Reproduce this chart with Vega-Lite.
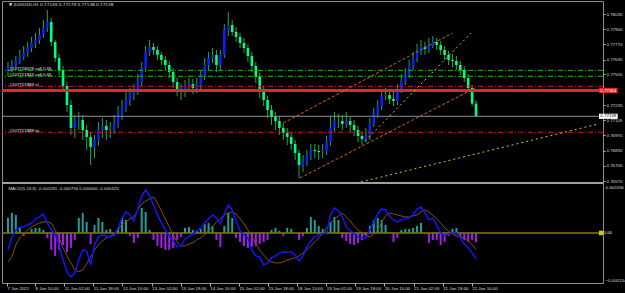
{
"$schema":"https://vega.github.io/schema/vega-lite/v6.json",
"width":601,"height":282,
"autosize":"none",
"padding":{"left":2,"top":1,"right":22,"bottom":10},
"background":"#000000",
"config":{"view":{"stroke":"#8c8c8c","strokeWidth":1},"axis":{"grid":false,"labelFont":"Liberation Sans","labelFontSize":4.4,"labelColor":"#dcdcdc","tickColor":"#b0b0b0","domain":false,"labelOverlap":false,"labelFlush":false,"labelBound":false}},
"datasets":{
"bars":[
{"i":0,"o":0.77527,"h":0.77614,"l":0.77491,"c":0.77562,"m":-0.000777,"s":-0.001325,"hs":0.000686},
{"i":1,"o":0.77562,"h":0.77632,"l":0.77527,"c":0.77588,"m":-0.000183,"s":-0.001097,"hs":0.000914},
{"i":2,"o":0.77588,"h":0.77667,"l":0.77562,"c":0.77623,"m":0.000137,"s":-0.000548,"hs":0.000823},
{"i":3,"o":0.77623,"h":0.7772,"l":0.77597,"c":0.77659,"m":0.000274,"s":-0.000229,"hs":0.000229},
{"i":4,"o":0.77659,"h":0.77754,"l":0.77632,"c":0.77693,"m":0.000274,"s":-0.000046,"hs":-0.000137},
{"i":5,"o":0.77693,"h":0.7779,"l":0.77659,"c":0.77737,"m":0.000366,"s":0.000137,"hs":0},
{"i":6,"o":0.77737,"h":0.77834,"l":0.77702,"c":0.77781,"m":0.000457,"s":0.000274,"hs":0.000183},
{"i":7,"o":0.77781,"h":0.77869,"l":0.77737,"c":0.77807,"m":0.00064,"s":0.000366,"hs":0.000229},
{"i":8,"o":0.77807,"h":0.77912,"l":0.77772,"c":0.77851,"m":0.000731,"s":0.000457,"hs":0.000229},
{"i":9,"o":0.77851,"h":0.77983,"l":0.77825,"c":0.77912,"m":0.000868,"s":0.000503,"hs":0.000137},
{"i":10,"o":0.77912,"h":0.7807,"l":0.77877,"c":0.77965,"m":0.000457,"s":0.000503,"hs":-0.000229},
{"i":11,"o":0.77965,"h":0.78,"l":0.77754,"c":0.7779,"m":0.000137,"s":0.000457,"hs":-0.000777},
{"i":12,"o":0.7779,"h":0.77807,"l":0.77614,"c":0.77649,"m":-0.000046,"s":0.000137,"hs":-0.001051},
{"i":13,"o":0.77649,"h":0.77684,"l":0.775,"c":0.77544,"m":-0.000548,"s":-0.000229,"hs":-0.000777},
{"i":14,"o":0.77544,"h":0.77579,"l":0.77351,"c":0.77404,"m":-0.001234,"s":-0.000686,"hs":-0.000548},
{"i":15,"o":0.77404,"h":0.77439,"l":0.77176,"c":0.77237,"m":-0.001782,"s":-0.001051,"hs":-0.000868},
{"i":16,"o":0.77237,"h":0.77281,"l":0.76974,"c":0.77036,"m":-0.002011,"s":-0.001371,"hs":-0.000686},
{"i":17,"o":0.77036,"h":0.77149,"l":0.76948,"c":0.77097,"m":-0.001828,"s":-0.001691,"hs":-0.00032},
{"i":18,"o":0.77097,"h":0.77176,"l":0.77018,"c":0.77106,"m":-0.001234,"s":-0.001782,"hs":0.000686},
{"i":19,"o":0.77106,"h":0.77149,"l":0.7693,"c":0.77018,"m":-0.000777,"s":-0.001691,"hs":0.000914},
{"i":20,"o":0.77018,"h":0.77062,"l":0.76843,"c":0.76957,"m":-0.000823,"s":-0.001417,"hs":0.000503},
{"i":21,"o":0.76957,"h":0.77001,"l":0.76711,"c":0.76869,"m":-0.001462,"s":-0.001097,"hs":-0.000503},
{"i":22,"o":0.76869,"h":0.76974,"l":0.76772,"c":0.7693,"m":-0.000548,"s":-0.000777,"hs":0.000366},
{"i":23,"o":0.7693,"h":0.77088,"l":0.76878,"c":0.77018,"m":-0.000183,"s":-0.000548,"hs":0.000686},
{"i":24,"o":0.77018,"h":0.77123,"l":0.76948,"c":0.77053,"m":-0.000091,"s":-0.000366,"hs":0.000503},
{"i":25,"o":0.77053,"h":0.77106,"l":0.7693,"c":0.77018,"m":-0.000137,"s":-0.000229,"hs":0.000137},
{"i":26,"o":0.77018,"h":0.77088,"l":0.76948,"c":0.77027,"m":-0.000183,"s":-0.000137,"hs":0.000183},
{"i":27,"o":0.77027,"h":0.77149,"l":0.76983,"c":0.77079,"m":-0.000091,"s":-0.000046,"hs":-0.000137},
{"i":28,"o":0.77079,"h":0.77228,"l":0.77036,"c":0.77158,"m":0.000229,"s":0.000137,"hs":0.000229},
{"i":29,"o":0.77158,"h":0.77281,"l":0.77106,"c":0.7722,"m":0.000686,"s":0.000411,"hs":0.000686},
{"i":30,"o":0.7722,"h":0.77351,"l":0.77176,"c":0.77281,"m":0.00096,"s":0.000503,"hs":0.000594},
{"i":31,"o":0.77281,"h":0.77386,"l":0.77228,"c":0.77342,"m":0.000823,"s":0.00064,"hs":-0.000137},
{"i":32,"o":0.77342,"h":0.77421,"l":0.77281,"c":0.77378,"m":0.000548,"s":0.000731,"hs":-0.000457},
{"i":33,"o":0.77378,"h":0.77509,"l":0.77325,"c":0.77439,"m":0.001097,"s":0.001051,"hs":-0.000229},
{"i":34,"o":0.77439,"h":0.77614,"l":0.77404,"c":0.77562,"m":0.001691,"s":0.001325,"hs":0.001143},
{"i":35,"o":0.77562,"h":0.77754,"l":0.77527,"c":0.77702,"m":0.001965,"s":0.001462,"hs":0.00096},
{"i":36,"o":0.77702,"h":0.77807,"l":0.77667,"c":0.77746,"m":0.001691,"s":0.001554,"hs":0.000137},
{"i":37,"o":0.77746,"h":0.77781,"l":0.77676,"c":0.7772,"m":0.00128,"s":0.001645,"hs":-0.00032},
{"i":38,"o":0.7772,"h":0.77754,"l":0.77632,"c":0.77676,"m":0.000823,"s":0.001371,"hs":-0.000594},
{"i":39,"o":0.77676,"h":0.77702,"l":0.77588,"c":0.77632,"m":0.000457,"s":0.001005,"hs":-0.000686},
{"i":40,"o":0.77632,"h":0.77667,"l":0.77544,"c":0.77588,"m":0.000137,"s":0.00064,"hs":-0.000777},
{"i":41,"o":0.77588,"h":0.77623,"l":0.77474,"c":0.77527,"m":-0.000137,"s":0.000274,"hs":-0.000777},
{"i":42,"o":0.77527,"h":0.77562,"l":0.77386,"c":0.77439,"m":-0.000366,"s":-0.000137,"hs":-0.000686},
{"i":43,"o":0.77439,"h":0.77474,"l":0.77316,"c":0.77369,"m":-0.00064,"s":-0.000411,"hs":-0.00032},
{"i":44,"o":0.77369,"h":0.77421,"l":0.77281,"c":0.77351,"m":-0.000594,"s":-0.000594,"hs":-0.000183},
{"i":45,"o":0.77351,"h":0.77456,"l":0.77307,"c":0.77404,"m":-0.000274,"s":-0.000594,"hs":0.000229},
{"i":46,"o":0.77404,"h":0.77474,"l":0.77351,"c":0.77421,"m":-0.000183,"s":-0.000503,"hs":0.000274},
{"i":47,"o":0.77421,"h":0.77465,"l":0.77334,"c":0.77386,"m":-0.000046,"s":-0.000457,"hs":0.000137},
{"i":48,"o":0.77386,"h":0.77474,"l":0.77342,"c":0.77413,"m":0.000091,"s":-0.00032,"hs":0.000091},
{"i":49,"o":0.77413,"h":0.77544,"l":0.77369,"c":0.775,"m":0.000229,"s":-0.000229,"hs":0.000183},
{"i":50,"o":0.775,"h":0.77649,"l":0.77456,"c":0.77588,"m":0.000457,"s":-0.000091,"hs":0.000411},
{"i":51,"o":0.77588,"h":0.77702,"l":0.77544,"c":0.77649,"m":0.00064,"s":0.000137,"hs":0.000457},
{"i":52,"o":0.77649,"h":0.77737,"l":0.77605,"c":0.77676,"m":0.000823,"s":0.000274,"hs":0.00032},
{"i":53,"o":0.77676,"h":0.7772,"l":0.77527,"c":0.77588,"m":0.000686,"s":0.000503,"hs":-0.00032},
{"i":54,"o":0.77588,"h":0.7772,"l":0.77544,"c":0.77676,"m":0.000411,"s":0.00064,"hs":-0.00064},
{"i":55,"o":0.77676,"h":0.77947,"l":0.77649,"c":0.77895,"m":0.000868,"s":0.000823,"hs":0.00032},
{"i":56,"o":0.77895,"h":0.78053,"l":0.77842,"c":0.77939,"m":0.00128,"s":0.000914,"hs":0.000914},
{"i":57,"o":0.77939,"h":0.77983,"l":0.77842,"c":0.77877,"m":0.001051,"s":0.00096,"hs":0.000686},
{"i":58,"o":0.77877,"h":0.77921,"l":0.7779,"c":0.77834,"m":0.000548,"s":0.000868,"hs":-0.000229},
{"i":59,"o":0.77834,"h":0.77869,"l":0.77737,"c":0.77781,"m":0.000091,"s":0.00064,"hs":-0.000411},
{"i":60,"o":0.77781,"h":0.77825,"l":0.77693,"c":0.77737,"m":-0.000091,"s":0.000411,"hs":-0.000594},
{"i":61,"o":0.77737,"h":0.77772,"l":0.77614,"c":0.77667,"m":-0.000229,"s":0.000137,"hs":-0.000686},
{"i":62,"o":0.77667,"h":0.77702,"l":0.77527,"c":0.77579,"m":-0.000777,"s":-0.000183,"hs":-0.00064},
{"i":63,"o":0.77579,"h":0.77614,"l":0.7743,"c":0.77483,"m":-0.001051,"s":-0.000503,"hs":-0.000594},
{"i":64,"o":0.77483,"h":0.77518,"l":0.77299,"c":0.77378,"m":-0.001097,"s":-0.000777,"hs":-0.000503},
{"i":65,"o":0.77378,"h":0.77404,"l":0.77228,"c":0.77281,"m":-0.001462,"s":-0.001005,"hs":-0.000411},
{"i":66,"o":0.77281,"h":0.77316,"l":0.77123,"c":0.77193,"m":-0.001371,"s":-0.001234,"hs":-0.00032},
{"i":67,"o":0.77193,"h":0.77237,"l":0.77062,"c":0.77132,"m":-0.001143,"s":-0.001325,"hs":0.000137},
{"i":68,"o":0.77132,"h":0.77176,"l":0.77018,"c":0.77097,"m":-0.001051,"s":-0.001371,"hs":0.000229},
{"i":69,"o":0.77097,"h":0.77141,"l":0.76974,"c":0.77036,"m":-0.000914,"s":-0.001371,"hs":0.000091},
{"i":70,"o":0.77036,"h":0.77079,"l":0.7693,"c":0.76992,"m":-0.000868,"s":-0.001325,"hs":-0.000137},
{"i":71,"o":0.76992,"h":0.77036,"l":0.76886,"c":0.76957,"m":-0.000868,"s":-0.001234,"hs":0.000229},
{"i":72,"o":0.76957,"h":0.77001,"l":0.76843,"c":0.76895,"m":-0.000868,"s":-0.001188,"hs":0.000183},
{"i":73,"o":0.76895,"h":0.7693,"l":0.76755,"c":0.76816,"m":-0.001005,"s":-0.001143,"hs":0},
{"i":74,"o":0.76816,"h":0.76843,"l":0.76597,"c":0.76711,"m":-0.00128,"s":-0.001051,"hs":-0.00032},
{"i":75,"o":0.76711,"h":0.76799,"l":0.7665,"c":0.76737,"m":-0.001051,"s":-0.000914,"hs":-0.000137},
{"i":76,"o":0.76737,"h":0.76843,"l":0.76702,"c":0.7679,"m":-0.00064,"s":-0.000777,"hs":0.000229},
{"i":77,"o":0.7679,"h":0.76895,"l":0.76755,"c":0.76843,"m":-0.000366,"s":-0.000594,"hs":0.000731},
{"i":78,"o":0.76843,"h":0.76895,"l":0.76772,"c":0.76834,"m":-0.000183,"s":-0.000411,"hs":0.000594},
{"i":79,"o":0.76834,"h":0.76886,"l":0.76755,"c":0.76825,"m":-0.000091,"s":-0.000229,"hs":0.00032},
{"i":80,"o":0.76825,"h":0.76895,"l":0.76772,"c":0.76834,"m":-0.000046,"s":0,"hs":0.000183},
{"i":81,"o":0.76834,"h":0.76965,"l":0.76799,"c":0.76913,"m":0,"s":0.000229,"hs":0.000091},
{"i":82,"o":0.76913,"h":0.77141,"l":0.76878,"c":0.77036,"m":0.000823,"s":0.000457,"hs":0.000503},
{"i":83,"o":0.77036,"h":0.77176,"l":0.77001,"c":0.77097,"m":0.001143,"s":0.00064,"hs":0.000731},
{"i":84,"o":0.77097,"h":0.77158,"l":0.77036,"c":0.77097,"m":0.001005,"s":0.000777,"hs":0.000594},
{"i":85,"o":0.77097,"h":0.77149,"l":0.77018,"c":0.77071,"m":0.000731,"s":0.000914,"hs":-0.000229},
{"i":86,"o":0.77071,"h":0.77176,"l":0.77036,"c":0.77097,"m":0.000274,"s":0.000731,"hs":-0.000366},
{"i":87,"o":0.77097,"h":0.77141,"l":0.77001,"c":0.77062,"m":0.000091,"s":0.000548,"hs":-0.000503},
{"i":88,"o":0.77062,"h":0.77106,"l":0.76965,"c":0.77018,"m":-0.000046,"s":0.00032,"hs":-0.000548},
{"i":89,"o":0.77018,"h":0.77053,"l":0.76913,"c":0.76965,"m":-0.000183,"s":0.000137,"hs":-0.000457},
{"i":90,"o":0.76965,"h":0.77001,"l":0.76886,"c":0.76939,"m":-0.000229,"s":0,"hs":-0.00032},
{"i":91,"o":0.76939,"h":0.77036,"l":0.76904,"c":0.76965,"m":-0.000229,"s":-0.000137,"hs":-0.000137},
{"i":92,"o":0.76965,"h":0.77123,"l":0.7693,"c":0.77079,"m":0.000137,"s":-0.000183,"hs":0.00032},
{"i":93,"o":0.77079,"h":0.77211,"l":0.77044,"c":0.77158,"m":0.000503,"s":-0.000046,"hs":0.000594},
{"i":94,"o":0.77158,"h":0.77281,"l":0.77123,"c":0.77228,"m":0.000868,"s":0.000091,"hs":0.000686},
{"i":95,"o":0.77228,"h":0.77369,"l":0.77193,"c":0.77316,"m":0.001097,"s":0.000503,"hs":0.000594},
{"i":96,"o":0.77316,"h":0.77386,"l":0.77281,"c":0.77325,"m":0.001051,"s":0.000777,"hs":0.000366},
{"i":97,"o":0.77325,"h":0.77369,"l":0.77246,"c":0.7729,"m":0.000777,"s":0.000914,"hs":0.000046},
{"i":98,"o":0.7729,"h":0.77351,"l":0.77228,"c":0.77272,"m":0.000594,"s":0.000868,"hs":-0.000411},
{"i":99,"o":0.77272,"h":0.77421,"l":0.77237,"c":0.77378,"m":0.000503,"s":0.000823,"hs":-0.000229},
{"i":100,"o":0.77378,"h":0.77509,"l":0.77342,"c":0.77448,"m":0.000594,"s":0.000777,"hs":0.000137},
{"i":101,"o":0.77448,"h":0.77562,"l":0.77413,"c":0.77509,"m":0.000686,"s":0.000731,"hs":0.000183},
{"i":102,"o":0.77509,"h":0.77632,"l":0.77474,"c":0.77579,"m":0.000686,"s":0.000731,"hs":0.000183},
{"i":103,"o":0.77579,"h":0.77702,"l":0.77544,"c":0.77649,"m":0.000823,"s":0.000777,"hs":0.000229},
{"i":104,"o":0.77649,"h":0.77772,"l":0.77614,"c":0.77711,"m":0.001097,"s":0.000823,"hs":0.00032},
{"i":105,"o":0.77711,"h":0.77807,"l":0.77676,"c":0.77746,"m":0.001188,"s":0.00096,"hs":0.000457},
{"i":106,"o":0.77746,"h":0.7779,"l":0.77676,"c":0.77728,"m":0.000914,"s":0.001051,"hs":-0.000046},
{"i":107,"o":0.77728,"h":0.77825,"l":0.77693,"c":0.77763,"m":0.000594,"s":0.00096,"hs":-0.000457},
{"i":108,"o":0.77763,"h":0.77842,"l":0.77737,"c":0.7779,"m":0.000686,"s":0.000823,"hs":-0.00032},
{"i":109,"o":0.7779,"h":0.77825,"l":0.7772,"c":0.77763,"m":0.000366,"s":0.00064,"hs":-0.00032},
{"i":110,"o":0.77763,"h":0.77798,"l":0.77676,"c":0.7772,"m":0,"s":0.000457,"hs":-0.000548},
{"i":111,"o":0.7772,"h":0.77754,"l":0.77632,"c":0.77676,"m":-0.000091,"s":0.000229,"hs":-0.000411},
{"i":112,"o":0.77676,"h":0.77711,"l":0.77588,"c":0.77632,"m":-0.000046,"s":0.000091,"hs":-0.000137},
{"i":113,"o":0.77632,"h":0.77684,"l":0.7757,"c":0.77623,"m":0,"s":-0.000046,"hs":0.000183},
{"i":114,"o":0.77623,"h":0.77667,"l":0.77544,"c":0.77588,"m":0,"s":-0.000137,"hs":0.000229},
{"i":115,"o":0.77588,"h":0.77623,"l":0.775,"c":0.77544,"m":-0.000229,"s":-0.000183,"hs":-0.000183},
{"i":116,"o":0.77544,"h":0.77579,"l":0.77439,"c":0.77474,"m":-0.000503,"s":-0.000229,"hs":-0.00032},
{"i":117,"o":0.77474,"h":0.77509,"l":0.77351,"c":0.77386,"m":-0.000686,"s":-0.000366,"hs":-0.000411},
{"i":118,"o":0.77386,"h":0.77413,"l":0.77228,"c":0.77249,"m":-0.000914,"s":-0.000548,"hs":-0.00032},
{"i":119,"o":0.77249,"h":0.77279,"l":0.77138,"c":0.77138,"m":-0.001181,"s":-0.000756,"hs":-0.000425}
],
"levels":[
{"kind":"sell","p":0.77541,"label":"#107728078 sell 0.65"},
{"kind":"sell","p":0.77489,"label":"#107721843 sell 0.65"},
{"kind":"sl","p":0.77401,"label":"#107721889 sl"},
{"kind":"tp","p":0.76998,"label":"#107721889 tp"},
{"kind":"level","p":0.77364},
{"kind":"bid","p":0.77138}
],
"trend":[
{"line":"a","i":70,"p":0.77079},{"line":"a","i":113,"p":0.77868},
{"line":"b","i":74.25,"p":0.76597},{"line":"b","i":118.75,"p":0.77386},
{"line":"c","i":90.75,"p":0.76921},{"line":"c","i":117.75,"p":0.77868},
{"line":"d","i":89.75,"p":0.76562},{"line":"d","i":150,"p":0.7707}
]
},
"layer":[
{"layer":[
 {"data":{"name":"bars"},"mark":{"type":"rule","strokeWidth":1,"color":"#1fa84a"},
  "encoding":{
   "x":{"field":"i","type":"quantitative","title":null,"scale":{"domain":[-0.25,150],"nice":false,"zero":false},
        "axis":{"orient":"bottom","tickCount":60,"values":[-0.25,6.9,14.3,21.7,29.1,36.5,43.9,51.3,58.7,66.1,73.5,80.9,88.3,95.7,103.1,110.5,117.9],
        "labelExpr":"['7 Jan 2021','8 Jan 10:00','11 Jan 02:00','11 Jan 18:00','12 Jan 10:00','13 Jan 02:00','13 Jan 18:00','14 Jan 10:00','15 Jan 02:00','15 Jan 18:00','18 Jan 10:00','19 Jan 02:00','19 Jan 18:00','20 Jan 10:00','21 Jan 02:00','21 Jan 18:00','22 Jan 10:00'][round((datum.value+0.5)/7.4)]",
        "labelAlign":"left","labelBaseline":"top","tickSize":3,"labelPadding":0,"labelOverlap":false}},
   "y":{"field":"l","type":"quantitative","title":null,"scale":{"domain":[0.76553,0.78149],"range":[182,0],"nice":false,"zero":false},
        "axis":{"orient":"right","tickCount":60,"values":[0.78035,0.779,0.7777,0.77635,0.77505,0.77235,0.77105,0.7697,0.76835,0.76705,0.7657],"format":".5f","tickSize":2,"labelPadding":1,"labelOverlap":false}},
   "y2":{"field":"h"}}},
 {"data":{"name":"bars"},"mark":{"type":"bar","width":2.6},
  "encoding":{
   "x":{"field":"i","type":"quantitative","title":null,"scale":{"domain":[-0.25,150],"nice":false,"zero":false}},
   "y":{"field":"o","type":"quantitative","title":null,"scale":{"domain":[0.76553,0.78149],"range":[182,0],"nice":false,"zero":false}},
   "y2":{"field":"c"},
   "color":{"condition":{"test":"datum.c < datum.o","value":"#00ff80"},"value":"#0a1eff"}}},
 {"data":{"values":[{}]},"mark":{"type":"rule","color":"#a0a0a0","strokeWidth":2},
  "encoding":{"y":{"datum":0.76553,"type":"quantitative","title":null,"scale":{"domain":[0.76553,0.78149],"range":[182,0],"nice":false,"zero":false}}}},
 {"data":{"name":"levels"},"transform":[{"filter":"datum.kind=='sell'"}],"mark":{"type":"rule","color":"#1fb81f","strokeWidth":1,"strokeDash":[5,2,1,2]},
  "encoding":{"y":{"field":"p","type":"quantitative","title":null,"scale":{"domain":[0.76553,0.78149],"range":[182,0],"nice":false,"zero":false}}}},
 {"data":{"name":"levels"},"transform":[{"filter":"datum.kind=='sl' || datum.kind=='tp'"}],"mark":{"type":"rule","color":"#e01010","strokeWidth":1,"strokeDash":[5,2,1,2]},
  "encoding":{"y":{"field":"p","type":"quantitative","title":null,"scale":{"domain":[0.76553,0.78149],"range":[182,0],"nice":false,"zero":false}}}},
 {"data":{"name":"levels"},"transform":[{"filter":"datum.kind=='bid'"}],"mark":{"type":"rule","color":"#8a8f99","strokeWidth":1},
  "encoding":{"y":{"field":"p","type":"quantitative","title":null,"scale":{"domain":[0.76553,0.78149],"range":[182,0],"nice":false,"zero":false}}}},
 {"data":{"name":"levels"},"transform":[{"filter":"datum.kind=='level'"}],"mark":{"type":"rule","color":"#dc2a2a","strokeWidth":3},
  "encoding":{"y":{"field":"p","type":"quantitative","title":null,"scale":{"domain":[0.76553,0.78149],"range":[182,0],"nice":false,"zero":false}}}},
 {"data":{"name":"trend"},"transform":[{"filter":"datum.line=='a' || datum.line=='b'"}],"mark":{"type":"line","color":"#d2641e","strokeWidth":1,"strokeDash":[3,2]},
  "encoding":{"x":{"field":"i","type":"quantitative","title":null,"scale":{"domain":[-0.25,150],"nice":false,"zero":false}},
   "y":{"field":"p","type":"quantitative","title":null,"scale":{"domain":[0.76553,0.78149],"range":[182,0],"nice":false,"zero":false}},
   "detail":{"field":"line"}}},
 {"data":{"name":"trend"},"transform":[{"filter":"datum.line=='c' || datum.line=='d'"}],"mark":{"type":"line","color":"#c8c820","strokeWidth":1,"strokeDash":[2,3]},
  "encoding":{"x":{"field":"i","type":"quantitative","title":null,"scale":{"domain":[-0.25,150],"nice":false,"zero":false}},
   "y":{"field":"p","type":"quantitative","title":null,"scale":{"domain":[0.76553,0.78149],"range":[182,0],"nice":false,"zero":false}},
   "detail":{"field":"line"}}},
 {"data":{"name":"levels"},"transform":[{"filter":"datum.label"}],"mark":{"type":"text","align":"left","baseline":"bottom","font":"Liberation Sans","fontSize":4.4,"color":"#e6e6e6","dy":0.5},
  "encoding":{"x":{"datum":0.4,"type":"quantitative","title":null,"scale":{"domain":[-0.25,150],"nice":false,"zero":false}},
   "y":{"field":"p","type":"quantitative","title":null,"scale":{"domain":[0.76553,0.78149],"range":[182,0],"nice":false,"zero":false}},
   "text":{"field":"label"}}},
 {"data":{"values":[{}]},"mark":{"type":"text","align":"left","baseline":"middle","font":"DejaVu Sans","fontSize":4.2,"color":"#dcdcdc"},
  "encoding":{"x":{"datum":0.25,"type":"quantitative","title":null,"scale":{"domain":[-0.25,150],"nice":false,"zero":false}},
   "y":{"datum":0.78117,"type":"quantitative","title":null,"scale":{"domain":[0.76553,0.78149],"range":[182,0],"nice":false,"zero":false}},
   "text":{"value":"▼ AUDUSD,H1  0.77249 0.77279 0.77138 0.77138"}}},
 {"data":{"name":"levels"},"transform":[{"filter":"datum.kind=='level'"}],"mark":{"type":"rect","color":"#dc2a2a","yOffset":-2.6,"y2Offset":2.6},
  "encoding":{"x":{"datum":150.25,"type":"quantitative","title":null,"scale":{"domain":[-0.25,150],"nice":false,"zero":false}},
   "x2":{"datum":155},
   "y":{"field":"p","type":"quantitative","title":null,"scale":{"domain":[0.76553,0.78149],"range":[182,0],"nice":false,"zero":false}},
   "y2":{"field":"p"}}},
 {"data":{"name":"levels"},"transform":[{"filter":"datum.kind=='bid'"}],"mark":{"type":"rect","color":"#ffffff","yOffset":-2.6,"y2Offset":2.6},
  "encoding":{"x":{"datum":150.25,"type":"quantitative","title":null,"scale":{"domain":[-0.25,150],"nice":false,"zero":false}},
   "x2":{"datum":155},
   "y":{"field":"p","type":"quantitative","title":null,"scale":{"domain":[0.76553,0.78149],"range":[182,0],"nice":false,"zero":false}},
   "y2":{"field":"p"}}},
 {"data":{"name":"levels"},"transform":[{"filter":"datum.kind=='level' || datum.kind=='bid'"}],"mark":{"type":"text","align":"left","baseline":"middle","font":"Liberation Sans","fontSize":4.4},
  "encoding":{"x":{"datum":150.6,"type":"quantitative","title":null,"scale":{"domain":[-0.25,150],"nice":false,"zero":false}},
   "y":{"field":"p","type":"quantitative","title":null,"scale":{"domain":[0.76553,0.78149],"range":[182,0],"nice":false,"zero":false}},
   "text":{"field":"p","format":".5f"},
   "color":{"condition":{"test":"datum.kind=='bid'","value":"#000000"},"value":"#ffffff"}}}
]},
{"layer":[
 {"data":{"name":"bars"},"mark":{"type":"bar","width":2},
  "encoding":{
   "x":{"field":"i","type":"quantitative","title":null,"scale":{"domain":[-0.25,150],"nice":false,"zero":false}},
   "y":{"field":"hs","type":"quantitative","title":null,"scale":{"domain":[-0.002291,0.002193],"range":[282,184],"nice":false,"zero":false},
        "axis":{"orient":"right","tickCount":60,"values":[0.002056,-0.002154],"format":".6f","tickSize":0,"labelPadding":2,"labelOverlap":false}},
   "y2":{"datum":0},
   "color":{"condition":{"test":"datum.hs >= 0","value":"#1f9e9a"},"value":"#a61ee8"}}},
 {"data":{"values":[{}]},"mark":{"type":"rule","color":"#7f7f00","strokeWidth":1.5},
  "encoding":{"y":{"datum":0,"type":"quantitative","title":null,"scale":{"domain":[-0.002291,0.002193],"range":[282,184],"nice":false,"zero":false}}}},
 {"data":{"name":"bars"},"mark":{"type":"line","color":"#8b4a1e","strokeWidth":1},
  "encoding":{"x":{"field":"i","type":"quantitative","title":null,"scale":{"domain":[-0.25,150],"nice":false,"zero":false}},
   "y":{"field":"s","type":"quantitative","title":null,"scale":{"domain":[-0.002291,0.002193],"range":[282,184],"nice":false,"zero":false}}}},
 {"data":{"name":"bars"},"mark":{"type":"line","color":"#1414ff","strokeWidth":1.5},
  "encoding":{"x":{"field":"i","type":"quantitative","title":null,"scale":{"domain":[-0.25,150],"nice":false,"zero":false}},
   "y":{"field":"m","type":"quantitative","title":null,"scale":{"domain":[-0.002291,0.002193],"range":[282,184],"nice":false,"zero":false}}}},
 {"data":{"values":[{}]},"mark":{"type":"text","align":"left","baseline":"middle","font":"Liberation Sans","fontSize":4.4,"color":"#dcdcdc"},
  "encoding":{"x":{"datum":0.1,"type":"quantitative","title":null,"scale":{"domain":[-0.25,150],"nice":false,"zero":false}},
   "y":{"datum":0.00201,"type":"quantitative","title":null,"scale":{"domain":[-0.002291,0.002193],"range":[282,184],"nice":false,"zero":false}},
   "text":{"value":"MACD(5,13,8) -0.001181 -0.000756 0.000000 -0.000425"}}},
 {"data":{"values":[{}]},"mark":{"type":"rect","color":"#d8c800","yOffset":-2.3,"y2Offset":2.3},
  "encoding":{"x":{"datum":150.25,"type":"quantitative","title":null,"scale":{"domain":[-0.25,150],"nice":false,"zero":false}},
   "x2":{"datum":151.3},
   "y":{"datum":0,"type":"quantitative","title":null,"scale":{"domain":[-0.002291,0.002193],"range":[282,184],"nice":false,"zero":false}},
   "y2":{"datum":0}}},
 {"data":{"values":[{}]},"mark":{"type":"text","align":"left","baseline":"middle","font":"Liberation Sans","fontSize":4.4,"color":"#e6e6e6"},
  "encoding":{"x":{"datum":151.4,"type":"quantitative","title":null,"scale":{"domain":[-0.25,150],"nice":false,"zero":false}},
   "y":{"datum":0,"type":"quantitative","title":null,"scale":{"domain":[-0.002291,0.002193],"range":[282,184],"nice":false,"zero":false}},
   "text":{"value":"0.00"}}}
]}
],
"resolve":{"scale":{"y":"independent"}}
}
